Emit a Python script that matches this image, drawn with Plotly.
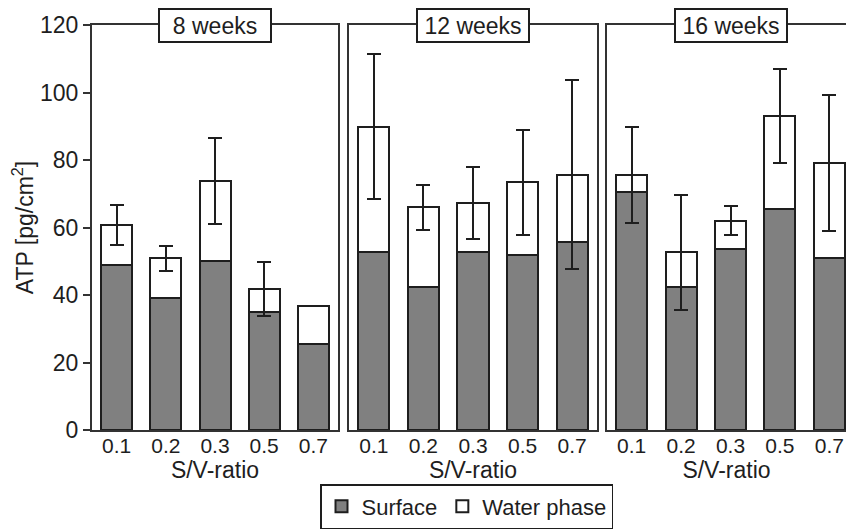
import plotly.graph_objects as go

ratios = ["0.1", "0.2", "0.3", "0.5", "0.7"]
panels = ["8 weeks", "12 weeks", "16 weeks"]

surface_8 = [49.0, 39.2, 50.1, 34.9, 25.4]
water_8 = [11.7, 11.7, 23.7, 6.8, 11.3]
err_8 = [6.0, 3.7, 12.7, 8.0, None]

surface_12 = [52.6, 42.5, 52.6, 52.0, 55.6]
water_12 = [37.3, 23.5, 14.7, 21.4, 20.0]
err_12 = [21.4, 6.7, 10.6, 15.5, 28.0]

surface_16 = [70.5, 42.5, 53.7, 65.6, 50.9]
water_16 = [5.1, 10.1, 8.3, 27.4, 28.2]
err_16 = [14.3, 16.9, 4.3, 13.9, 20.1]

y_ticks = [0, 20, 40, 60, 80, 100, 120]

data = [(surface_8, water_8, err_8), (surface_12, water_12, err_12), (surface_16, water_16, err_16)]

FONT = "Liberation Sans, Arial, sans-serif"
DARK = "#1e1e1e"
GRAY = "#808080"

W, H = 846, 529
x_domains = [(92 / W, 338 / W), (349 / W, 597 / W), (607 / W, 1.0)]
x_ranges = [[-0.5, 4.5], [-0.5, 4.5], [-0.5, 4.5 - 8 / 49.4]]
y_domain = ((H - 430) / H, (H - 25) / H)
positions = list(range(len(ratios)))
bounds = [p - 0.5 for p in positions] + [positions[-1] + 0.5]

fig = go.Figure()
for i, (surf, wat, err) in enumerate(data):
    xa = "x" if i == 0 else f"x{i+1}"
    ya = "y" if i == 0 else f"y{i+1}"
    fig.add_trace(go.Bar(
        x=positions, y=surf, name="Surface", xaxis=xa, yaxis=ya,
        marker=dict(color=GRAY, line=dict(color=DARK, width=2)),
        legendgroup="s", showlegend=(i == 0),
    ))
    fig.add_trace(go.Bar(
        x=positions, y=wat, name="Water phase", xaxis=xa, yaxis=ya,
        marker=dict(color="white", line=dict(color=DARK, width=2)),
        error_y=dict(type="data", array=err, color=DARK, thickness=2, width=7, visible=True),
        legendgroup="w", showlegend=(i == 0),
    ))

layout = dict(
    template="none",
    width=W, height=H,
    margin=dict(l=0, r=0, t=0, b=0, pad=0),
    paper_bgcolor="white", plot_bgcolor="white",
    barmode="stack", bargap=0.37,
    font=dict(family=FONT, color=DARK, size=22),
    showlegend=True,
    legend=dict(orientation="h", x=320 / W, y=0, xanchor="left", yanchor="bottom",
                bordercolor=DARK, borderwidth=1.5, bgcolor="white",
                font=dict(size=22, family=FONT, color=DARK), traceorder="normal",
                itemwidth=30, tracegroupgap=0),
)

annotations = []
for i in range(3):
    sfx = "" if i == 0 else str(i + 1)
    ysfx = "" if i == 0 else str(i + 1)
    layout[f"xaxis{sfx}"] = dict(
        domain=list(x_domains[i]), range=x_ranges[i], anchor=f"y{ysfx}",
        tickmode="array", tickvals=positions, ticktext=ratios, ticks="", ticklen=0,
        ticklabelstandoff=-4,
        tickfont=dict(size=21, family=FONT, color=DARK),
        showline=True, linecolor="#333", linewidth=2, mirror=True,
        showgrid=False, zeroline=False, fixedrange=True, automargin=False,
        title=dict(text="S/V-ratio", font=dict(size=23, family=FONT, color=DARK), standoff=0),
    )
    layout[f"yaxis{ysfx}"] = dict(
        domain=list(y_domain), range=[0, 120], anchor=f"x{sfx}",
        showline=True, linecolor="#333", linewidth=2, mirror=(i < 2),
        showgrid=False, zeroline=False, fixedrange=True, automargin=False,
    )
    if i == 0:
        layout["yaxis"].update(
            tickmode="array", tickvals=y_ticks, ticks="outside", ticklen=7, tickwidth=2,
            tickcolor="#333", tickfont=dict(size=23, family=FONT, color=DARK),
            title=dict(text="ATP [pg/cm<sup>2</sup>]", font=dict(size=23, family=FONT, color=DARK), standoff=0),
        )
    else:
        layout[f"yaxis{ysfx}"].update(showticklabels=False, ticks="")
    # boundary ticks (outside and inside parts)
    base = f"x{sfx}" if sfx else "x"
    for k, (tk, ln) in enumerate([("outside", 5), ("inside", 7)]):
        n = 4 + i + 3 * k
        layout[f"xaxis{n}"] = dict(
            domain=list(x_domains[i]), range=x_ranges[i], overlaying=base, anchor=f"y{ysfx}",
            side="bottom", tickmode="array", tickvals=bounds, ticks=tk, ticklen=ln,
            tickwidth=2, tickcolor="#333", showticklabels=False, showline=False,
            showgrid=False, zeroline=False, fixedrange=True, automargin=False,
        )
    cx = (x_domains[i][0] + (x_domains[i][0] + 247 / W)) / 2 if i == 2 else sum(x_domains[i]) / 2
    annotations.append(dict(
        text=panels[i], xref="paper", yref="paper", x=cx, y=y_domain[1],
        xanchor="center", yanchor="middle", showarrow=False,
        font=dict(size=23, family=FONT, color=DARK),
        bgcolor="white", bordercolor=DARK, borderwidth=2, borderpad=1,
        width=108, height=29,
    ))

layout["yaxis10"] = dict(
    domain=list(y_domain), range=[0, 120], overlaying="y", anchor="x", side="left",
    tickmode="array", tickvals=y_ticks, ticks="inside", ticklen=7, tickwidth=2,
    tickcolor="#333", showticklabels=False, showline=False, showgrid=False,
    zeroline=False, fixedrange=True, automargin=False,
)
layout["annotations"] = annotations

fig.update_layout(**layout)
fig.write_html("out.html")
